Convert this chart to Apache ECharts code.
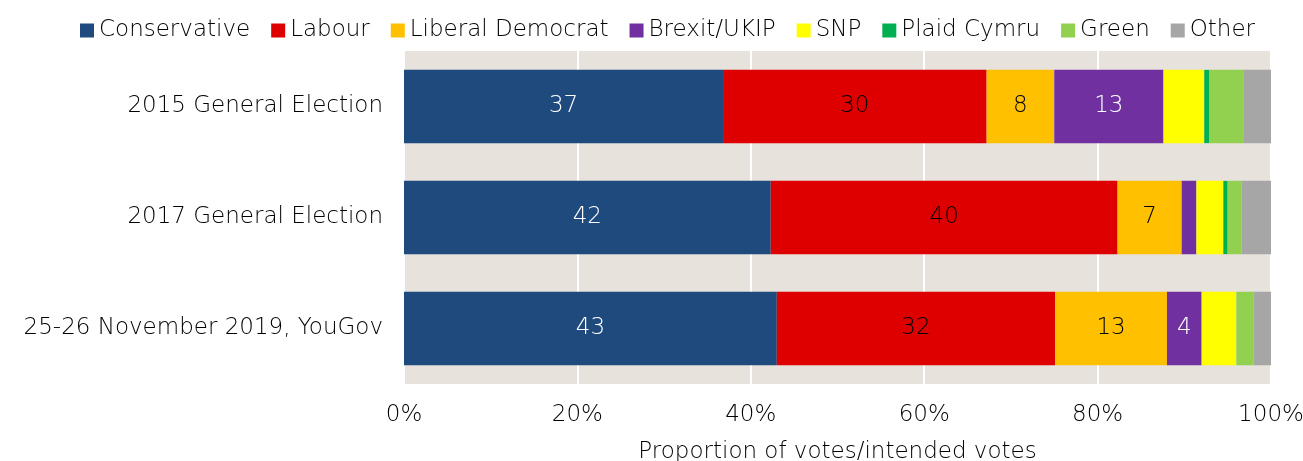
<!DOCTYPE html>
<html><head><meta charset="utf-8">
<script src="https://cdn.jsdelivr.net/npm/echarts@6/dist/echarts.min.js"></script>
<style>html,body{margin:0;padding:0;background:#fff}#c{width:1303px;height:461px}</style>
</head><body><div id="c"></div>
<script>
const categories = ['2015 General Election', '2017 General Election', '25-26 November 2019, YouGov'];
const seriesNames = ['Conservative', 'Labour', 'Liberal Democrat', 'Brexit/UKIP', 'SNP', 'Plaid Cymru', 'Green', 'Other'];
const conservative = [36.8, 42.3, 43.0];
const labour = [30.4, 40.0, 32.1];
const libDem = [7.8, 7.4, 12.9];
const brexitUkip = [12.6, 1.7, 4.0];
const snp = [4.7, 3.1, 4.0];
const plaid = [0.6, 0.5, 0];
const green = [3.9, 1.6, 2.0];
const other = [3.2, 3.4, 2.0];
const xTicks = [0, 20, 40, 60, 80, 100];

const seriesData = [conservative, labour, libDem, brexitUkip, snp, plaid, green, other];
const colors = ['#1F4A7E', '#DE0000', '#FFC000', '#7030A0', '#FFFF00', '#00B050', '#92D050', '#A6A6A6'];
const labelColors = ['#fff', '#000', '#000', '#fff'];
const FONT = 'DejaVu Sans';
const FW = 200;
const FS = 23;
const TXT = '#000';

const series = seriesNames.map((name, i) => ({
  name, type: 'bar', stack: 'total', data: seriesData[i],
  barCategoryGap: '34%',
  itemStyle: { color: colors[i] },
  label: {
    show: i < 4, position: 'inside', fontFamily: FONT, fontWeight: FW, fontSize: FS,
    color: labelColors[i] || '#000',
    formatter: p => (p.value >= 4 ? String(Math.round(p.value)) : '')
  },
  emphasis: { disabled: true }
}));

const chart = echarts.init(document.getElementById('c'), null, { renderer: 'canvas' });
chart.setOption({
  animation: false,
  textStyle: { fontFamily: FONT },
  legend: {
    top: 14, left: 75, itemWidth: 14, itemHeight: 14, itemGap: 21,
    icon: 'rect',
    textStyle: { fontFamily: FONT, fontWeight: FW, fontSize: FS, color: TXT },
    data: seriesNames
  },
  grid: { left: 404, right: 32, top: 51, bottom: 77, show: true, backgroundColor: '#E7E2DC', borderWidth: 0, containLabel: false, outerBoundsMode: 'none' },
  xAxis: {
    type: 'value', min: xTicks[0], max: xTicks[xTicks.length - 1], interval: 20,
    axisLine: { show: false }, axisTick: { show: false },
    splitLine: { show: true, lineStyle: { color: '#fff', width: 2 } },
    axisLabel: { formatter: '{value}%', fontFamily: FONT, fontWeight: FW, fontSize: FS, color: TXT, margin: 20 },
    name: 'Proportion of votes/intended votes', nameLocation: 'middle', nameGap: 57,
    nameTextStyle: { fontFamily: FONT, fontWeight: FW, fontSize: FS, color: TXT }
  },
  yAxis: {
    type: 'category', data: categories, inverse: true,
    axisLine: { show: false }, axisTick: { show: false }, splitLine: { show: false },
    axisLabel: { fontFamily: FONT, fontWeight: FW, fontSize: FS, color: TXT, margin: 21 }
  },
  series
});
</script></body></html>
